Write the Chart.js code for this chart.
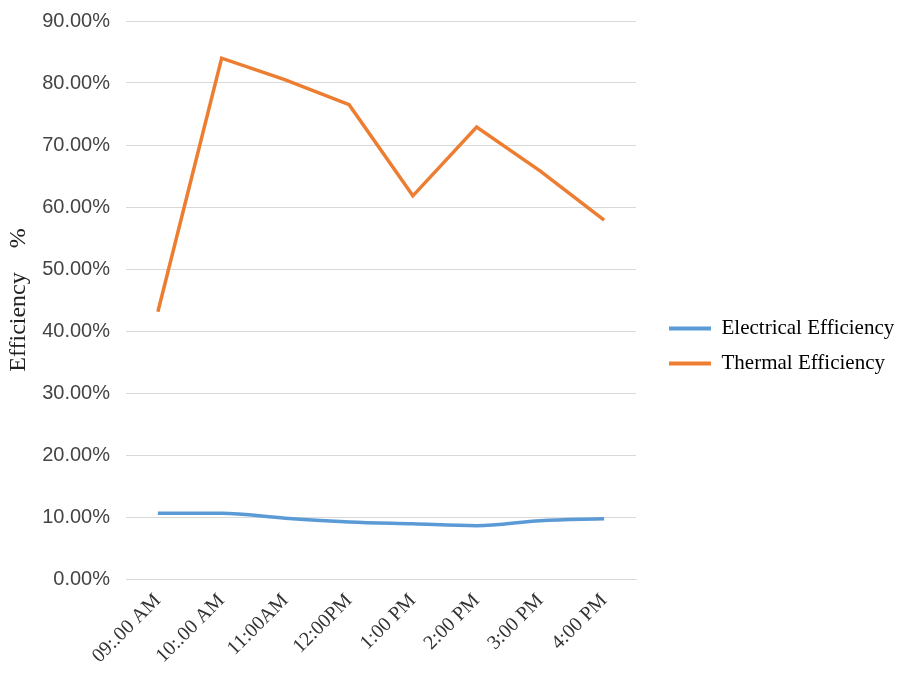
<!DOCTYPE html>
<html>
<head>
<meta charset="utf-8">
<script src="https://cdn.jsdelivr.net/npm/chart.js@4"></script>
<style>
  html, body { margin: 0; padding: 0; background: #fff; }
  #wrap { width: 899px; height: 675px; position: relative; }
</style>
</head>
<body>
<div id="wrap"><canvas id="grafico"></canvas></div>
<script>
// Horários das medições
const horarios = ['09:.00 AM', '10:.00 AM', '11:00AM', '12:00PM', '1:00 PM', '2:00 PM', '3:00 PM', '4:00 PM'];
// Eficiências (fração)
const eficienciaEletrica = [0.106, 0.106, 0.098, 0.092, 0.089, 0.086, 0.094, 0.097];
const eficienciaTermica = [0.431, 0.840, 0.805, 0.765, 0.618, 0.729, 0.658, 0.579];
const ticksY = [0, 0.1, 0.2, 0.3, 0.4, 0.5, 0.6, 0.7, 0.8, 0.9];

// Ajusta largura e posição da legenda (à direita)
const ajusteLegenda = {
  id: 'ajusteLegenda',
  afterInit(chart) {
    const lg = chart.legend;
    const fitOriginal = lg.fit.bind(lg);
    lg.fit = function () { fitOriginal(); this.width = 263; };
  },
  afterLayout(chart) {
    const lg = chart.legend;
    lg.left += 19;
    lg.top -= 2;
    lg.bottom -= 2;
  }
};

const ctx = document.getElementById('grafico');

new Chart(ctx, {
  type: 'line',
  data: {
    labels: horarios,
    datasets: [
      { label: 'Electrical Efficiency', data: eficienciaEletrica, borderColor: '#5B9BD5', backgroundColor: '#5B9BD5', borderWidth: 3.5, cubicInterpolationMode: 'monotone', pointRadius: 0, fill: false },
      { label: 'Thermal Efficiency', data: eficienciaTermica, borderColor: '#ED7D31', backgroundColor: '#ED7D31', borderWidth: 3.5, tension: 0, pointRadius: 0, fill: false }
    ]
  },
  plugins: [ajusteLegenda],
  options: {
    responsive: true,
    maintainAspectRatio: false,
    animation: false,
    layout: { padding: { top: 21, right: 0, bottom: 0, left: 0 } },
    plugins: {
      tooltip: { enabled: false },
      legend: {
        position: 'right',
        align: 'center',
        labels: {
          boxWidth: 42,
          boxHeight: 0,
          padding: 14,
          color: '#222',
          font: { family: 'Liberation Serif', size: 21 },
          generateLabels: (chart) => chart.data.datasets.map((d, i) => ({
            text: d.label, fillStyle: d.borderColor, strokeStyle: d.borderColor,
            lineWidth: 4, lineCap: 'round', datasetIndex: i, hidden: false
          }))
        }
      }
    },
    scales: {
      x: {
        offset: true,
        afterFit: (eixo) => { eixo.height = 96; },
        grid: { display: false },
        border: { display: true, color: '#d9d9d9', width: 1 },
        ticks: { maxRotation: 45, minRotation: 45, color: '#333', padding: 2, font: { family: 'Liberation Serif', size: 20 } }
      },
      y: {
        min: 0,
        max: 0.9,
        afterFit: (eixo) => { eixo.width = 126; eixo.paddingTop = 0; eixo.paddingBottom = 0; },
        afterBuildTicks: (eixo) => { eixo.ticks = ticksY.map((v) => ({ value: v })); },
        grid: { color: '#d9d9d9', drawTicks: false },
        border: { display: false },
        ticks: {
          padding: 16,
          color: '#444',
          font: { family: 'Liberation Sans', size: 20 },
          callback: (v) => (v * 100).toFixed(2) + '%'
        },
        title: { display: true, text: 'Efficiency    %', color: '#222', font: { family: 'Liberation Serif', size: 24 }, padding: { top: 4, bottom: 0 } }
      }
    }
  }
});
</script>
</body>
</html>
